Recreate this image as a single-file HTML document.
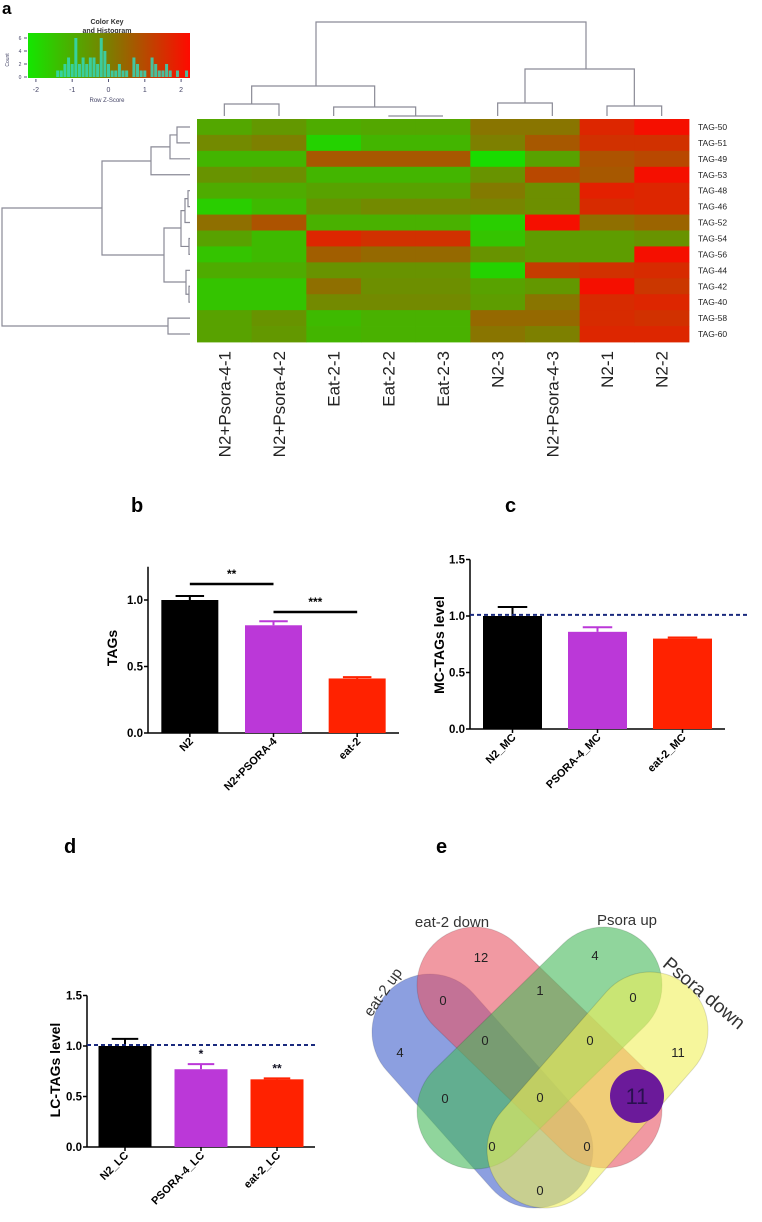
<!DOCTYPE html>
<html><head><meta charset="utf-8"><style>
html,body{margin:0;padding:0;background:#fff;}
svg{display:block;font-family:"Liberation Sans",sans-serif;}
.b{font-weight:bold;}
</style></head><body>
<svg id="fig" width="762" height="1222" viewBox="0 0 762 1222" xmlns="http://www.w3.org/2000/svg">
<defs>
<linearGradient id="ckg" x1="0" x2="1" y1="0" y2="0">
<stop offset="0" stop-color="#14e600"/><stop offset="0.5" stop-color="#7d7d00"/><stop offset="1" stop-color="#ff0a00"/>
</linearGradient>
</defs>
<text x="2" y="14" class="b" font-size="17">a</text>
<text x="107" y="24" font-size="7" class="b" text-anchor="middle" fill="#333">Color Key</text>
<text x="107" y="33" font-size="7" class="b" text-anchor="middle" fill="#333">and Histogram</text>
<rect x="28" y="33" width="162" height="45" fill="url(#ckg)"/>
<g id="ck"></g>
<text x="107" y="102" font-size="6" text-anchor="middle" fill="#446">Row Z-Score</text>
<text x="9" y="60" font-size="5" fill="#446" transform="rotate(-90 9 60)" text-anchor="middle">Count</text>
<g id="dend" stroke="#8a8a96" stroke-width="1.2" fill="none"></g>
<g id="heat"></g>
<g id="bars"></g>
<text x="131" y="512" class="b" font-size="20">b</text>
<text x="505" y="512" class="b" font-size="20">c</text>
<text x="64" y="853" class="b" font-size="20">d</text>
<text x="436" y="853" class="b" font-size="20">e</text>
<g id="venn"></g>
</svg>
<script>
const NS="http://www.w3.org/2000/svg";
function mk(parent,tag,attrs,txt){const e=document.createElementNS(NS,tag);for(const k in attrs)e.setAttribute(k,attrs[k]);if(txt!==undefined)e.textContent=txt;parent.appendChild(e);return e;}

// ---- color key histogram data
const ckZ=[-1.4,-1.3,-1.2,-1.1,-1.0,-0.9,-0.8,-0.7,-0.6,-0.5,-0.4,-0.3,-0.2,-0.1,0,0.1,0.2,0.3,0.4,0.5,0.7,0.8,0.9,1.0,1.2,1.3,1.4,1.5,1.6,1.7,1.9,2.15];
const ckCount=[1,1,2,3,2,6,2,3,2,3,3,2,6,4,2,1,1,2,1,1,3,2,1,1,3,2,1,1,2,1,1,1];
const ckTicks=[-2,-1,0,1,2];
const ckCountTicks=[0,2,4,6];
const ckx=z=>108.5+z*36.3, cky=c=>77-c*6.5;
const ck=document.getElementById('ck');
ckZ.forEach((z,i)=>{const r=mk(ck,'rect',{x:ckx(z)-1.5,y:cky(ckCount[i]),width:3,height:77-cky(ckCount[i]),fill:'#33d8b8',opacity:0.85});

});
ckTicks.forEach(t=>{mk(ck,'line',{x1:ckx(t),x2:ckx(t),y1:79,y2:82,stroke:'#557'});const tx=mk(ck,'text',{x:ckx(t),y:92,'font-size':7,'text-anchor':'middle',fill:'#446'},String(t));

});
ckCountTicks.forEach(t=>{mk(ck,'line',{x1:24,x2:27,y1:cky(t),y2:cky(t),stroke:'#557'});mk(ck,'text',{x:20,y:cky(t)+2,'font-size':5,'text-anchor':'middle',fill:'#446'},String(t));});

// ---- heatmap data
const hmCols=["N2+Psora-4-1","N2+Psora-4-2","Eat-2-1","Eat-2-2","Eat-2-3","N2-3","N2+Psora-4-3","N2-1","N2-2"];
const hmRows=["TAG-50","TAG-51","TAG-49","TAG-53","TAG-48","TAG-46","TAG-52","TAG-54","TAG-56","TAG-44","TAG-42","TAG-40","TAG-58","TAG-60"];
const hmZ=[
[-0.8,-0.5,-0.9,-0.8,-0.8,0.2,0.2,1.6,2.0],
[-0.2,0.0,-1.7,-1.1,-1.1,0.0,0.7,1.4,1.4],
[-1.1,-1.1,0.7,0.7,0.7,-1.9,-0.7,0.8,1.0],
[-0.4,-0.3,-1.1,-1.1,-1.1,-0.4,1.0,0.7,2.0],
[-0.9,-0.9,-0.7,-0.7,-0.7,0.1,-0.3,1.7,1.6],
[-1.6,-1.2,-0.4,-0.2,-0.2,-0.1,-0.3,1.5,1.6],
[0.3,0.8,-1.0,-1.0,-1.0,-1.6,2.0,0.3,0.5],
[-0.7,-1.2,1.6,1.4,1.4,-1.4,-0.6,-0.6,-0.4],
[-1.4,-1.2,0.6,0.4,0.4,-0.4,-0.6,-0.6,2.1],
[-0.9,-0.9,-0.4,-0.4,-0.4,-1.7,1.2,1.4,1.5],
[-1.4,-1.4,0.3,-0.3,-0.3,-0.7,-0.5,2.0,1.3],
[-1.4,-1.4,-0.2,-0.2,-0.2,-0.6,0.2,1.5,1.6],
[-0.7,-0.4,-1.2,-1.0,-1.0,0.4,0.4,1.5,1.4],
[-0.7,-0.5,-1.1,-1.0,-1.0,0.2,0.0,1.6,1.6]];
const HX0=197,HX1=689,HY0=119,HY1=342;
const cw=(HX1-HX0)/hmCols.length, rh=(HY1-HY0)/hmRows.length;
function zcol(z){z=Math.max(-2,Math.min(2,z));let a,b,t;
 if(z<0){a=[20,225,0];b=[125,128,0];t=(z+2)/2;}else{a=[125,128,0];b=[245,15,0];t=z/2;}
 return 'rgb('+a.map((v,i)=>Math.round(v+(b[i]-v)*t)).join(',')+')';}
const heat=document.getElementById('heat');
hmZ.forEach((row,r)=>row.forEach((z,c)=>{const e=mk(heat,'rect',{x:HX0+c*cw,y:HY0+r*rh,width:cw+0.4,height:rh+0.4,fill:zcol(z)});

}));
hmRows.forEach((n,r)=>{const e=mk(heat,'text',{x:698,y:HY0+(r+0.5)*rh+3,'font-size':8.5,fill:'#222'},n);

});
hmCols.forEach((n,c)=>{const x=HX0+(c+0.5)*cw+6;const e=mk(heat,'text',{x:x,y:351,'font-size':17,fill:'#222','text-anchor':'end',transform:'rotate(-90 '+x+' 351)'},n);

});

// ---- dendrograms (tree structure)
const dend=document.getElementById('dend');
const cx=i=>HX0+(i+0.5)*cw, ry=i=>HY0+(i+0.5)*rh;
function U(xa,xb,ya,yb,yt){mk(dend,'path',{d:'M'+xa+' '+ya+'V'+yt+'H'+xb+'V'+yb});}
function L(ya,yb,xa,xb,xt){mk(dend,'path',{d:'M'+xa+' '+ya+'H'+xt+'V'+yb+'H'+xb});}
// columns
U(cx(0),cx(1),116,116,104);
U(cx(3),cx(4),116,116,116);
U(cx(2),(cx(3)+cx(4))/2,116,116,107);
U((cx(0)+cx(1))/2,(cx(2)+(cx(3)+cx(4))/2)/2,104,107,86);
U(cx(5),cx(6),116,116,103);
U(cx(7),cx(8),116,116,106);
U((cx(5)+cx(6))/2,(cx(7)+cx(8))/2,103,106,69);
U(316,586,86,69,22);
// rows
L(ry(0),ry(1),190,190,177);
L((ry(0)+ry(1))/2,ry(2),177,190,170);
L(((ry(0)+ry(1))/2+ry(2))/2,ry(3),170,190,151);
L(ry(4),ry(5),190,190,188);
L((ry(4)+ry(5))/2,ry(6),188,190,185);
L(ry(7),ry(8),190,190,189);
L(((ry(4)+ry(5))/2+ry(6))/2,(ry(7)+ry(8))/2,185,189,181);
L(ry(10),ry(11),190,190,189);
L(ry(9),(ry(10)+ry(11))/2,190,189,186);
L(228,282,181,186,164);
L(161,255,151,164,102);
L(ry(12),ry(13),190,190,168);
L(208,326,102,168,2);

// ---- bar charts data
const bCats=["N2","N2+PSORA-4","eat-2"];
const bVals=[1.0,0.81,0.41];
const bErr=[1.03,0.84,0.42];
const bTicks=["0.0","0.5","1.0"];
const cCats=["N2_MC","PSORA-4_MC","eat-2_MC"];
const cVals=[1.0,0.86,0.80];
const cErr=[1.08,0.90,0.81];
const cTicks=["0.0","0.5","1.0","1.5"];
const dCats=["N2_LC","PSORA-4_LC","eat-2_LC"];
const dVals=[1.0,0.77,0.67];
const dErr=[1.07,0.82,0.68];
const dTicks=["0.0","0.5","1.0","1.5"];
const dStars=["","*","**"];
const barColors=["#000000","#bb38d8","#ff2200"];
const bars=document.getElementById('bars');
function chart(o){
 const g=mk(bars,'g',{});
 
 
 const y=v=>o.y0-v*o.k;
 mk(g,'line',{x1:o.ax,x2:o.ax,y1:y(o.ymax),y2:o.y0,stroke:'#000','stroke-width':1.5});
 mk(g,'line',{x1:o.ax,x2:o.axEnd,y1:o.y0,y2:o.y0,stroke:'#000','stroke-width':1.5});
 o.ticks.forEach(t=>{const v=parseFloat(t);mk(g,'line',{x1:o.ax-4,x2:o.ax,y1:y(v),y2:y(v),stroke:'#000','stroke-width':1.5});
  const e=mk(g,'text',{x:o.ax-5,y:y(v)+4,'font-size':11.5,'text-anchor':'end',class:'b'},t);
  
  });
 const n=o.cats.length, step=(o.axEnd-o.ax)/n;
 o.cats.forEach((c,i)=>{const xc=o.ax+step*(i+0.5), w=o.bw;
  const col=barColors[i];
  const r=mk(g,'rect',{x:xc-w/2,y:y(o.vals[i]),width:w,height:o.y0-y(o.vals[i]),fill:col});
  
  
  mk(g,'line',{x1:xc,x2:xc,y1:y(o.vals[i]),y2:y(o.err[i]),stroke:col,'stroke-width':2});
  mk(g,'line',{x1:xc-w*0.25,x2:xc+w*0.25,y1:y(o.err[i]),y2:y(o.err[i]),stroke:col,'stroke-width':2});
  mk(g,'line',{x1:xc,x2:xc,y1:o.y0,y2:o.y0+4,stroke:'#000','stroke-width':1.5});
  const lx=xc+4, ly=o.y0+9;
  const t=mk(g,'text',{x:lx,y:ly,'font-size':11,class:'b','text-anchor':'end',transform:'rotate(-45 '+lx+' '+ly+')'},c);
  
  
  if(o.stars&&o.stars[i]){const s=mk(g,'text',{x:xc,y:y(o.err[i])-6,'font-size':12,class:'b','text-anchor':'middle',fill:'#112'},o.stars[i]);
   
   }
 });
 if(o.dash){const d=mk(g,'line',{x1:o.ax,x2:o.dashEnd,y1:y(1.01),y2:y(1.01),stroke:'#1a2a7e','stroke-width':2,'stroke-dasharray':'4,3'});
  
  }
 const tt=mk(g,'text',{x:o.tx,y:o.ty,'font-size':14,class:'b','text-anchor':'middle',transform:'rotate(-90 '+o.tx+' '+o.ty+')'},o.title);
 
 
 return {g,y,step};
}
const cb=chart({name:'chart-b',cats:bCats,vals:bVals,err:bErr,ticks:bTicks,ax:148,axEnd:399,y0:733,k:133,ymax:1.25,bw:57,title:'TAGs',tx:117,ty:648});
// significance lines in b
[[0,1,1.12,'**'],[1,2,0.91,'***']].forEach(s=>{const x1=148+cb.step*(s[0]+0.5), x2=148+cb.step*(s[1]+0.5);
 const yy=cb.y(s[2]);
 const l=mk(cb.g,'line',{x1:x1,x2:x2,y1:yy,y2:yy,stroke:'#000','stroke-width':2.5});
 
 
 mk(cb.g,'text',{x:(x1+x2)/2,y:yy-6,'font-size':12,class:'b','text-anchor':'middle'},s[3]);});
chart({name:'chart-c',cats:cCats,vals:cVals,err:cErr,ticks:cTicks,ax:470,axEnd:725,y0:729,k:113,ymax:1.5,bw:59,title:'MC-TAGs level',tx:444,ty:645,dash:true,dashEnd:748});
chart({name:'chart-d',cats:dCats,vals:dVals,err:dErr,ticks:dTicks,ax:87,axEnd:315,y0:1147,k:101,ymax:1.5,bw:53,title:'LC-TAGs level',tx:60,ty:1070,dash:true,dashEnd:316,stars:dStars});

// ---- venn
const venn=document.getElementById('venn');
const vSets=["eat-2 up","eat-2 down","Psora up","Psora down"];
const vCaps=[[[430,1032],[535,1150]],[[475,985],[604,1110]],[[604,985],[475,1111]],[[650,1030],[545,1150]]];
const vFill=["rgba(70,100,205,0.62)","rgba(232,85,100,0.6)","rgba(70,185,90,0.6)","rgba(240,240,90,0.6)"];
const vR=58;
vCaps.forEach((c,i)=>{const [p,q]=c;const dx=q[0]-p[0],dy=q[1]-p[1],len=Math.hypot(dx,dy),ang=Math.atan2(dy,dx)*180/Math.PI;
 const mx=(p[0]+q[0])/2,my=(p[1]+q[1])/2;
 const r=mk(venn,'rect',{x:mx-len/2-vR,y:my-vR,width:len+2*vR,height:2*vR,rx:vR,ry:vR,fill:vFill[i],stroke:'rgba(0,0,0,0.12)',transform:'rotate('+ang+' '+mx+' '+my+')'});
 
 });
const pc=mk(venn,'circle',{cx:637,cy:1096,r:27,fill:'#6b1a9a'});


const vCounts=["12","4","0","1","0","4","0","0","11","0","0","0","0","0"];
const vPos=[[481,962],[595,960],[443,1005],[540,995],[633,1002],[400,1057],[485,1045],[590,1045],[678,1057],[445,1103],[540,1102],[492,1151],[587,1151],[540,1195]];
vCounts.forEach((n,i)=>{const t=mk(venn,'text',{x:vPos[i][0],y:vPos[i][1],'font-size':13,'text-anchor':'middle',fill:'#222'},n);
 
 });
const big=mk(venn,'text',{x:637,y:1104,'font-size':22,'text-anchor':'middle',fill:'#2a1050'},'11');


const vLab=[[387,995,-55,15],[452,927,0,15],[627,925,0,15],[700,998,40,19]];
vSets.forEach((s,i)=>{const [x,y,a,f]=vLab[i];const t=mk(venn,'text',{x:x,y:y,'font-size':f,'text-anchor':'middle',fill:'#333',transform:'rotate('+a+' '+x+' '+y+')'},s);
 
 });
</script>
</body></html>
